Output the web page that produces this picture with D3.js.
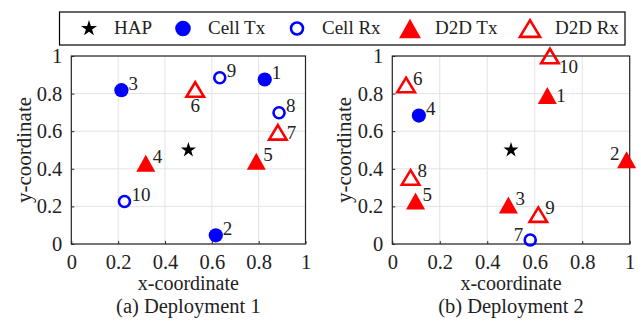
<!DOCTYPE html>
<html>
<head>
<meta charset="utf-8">
<script src="https://cdn.jsdelivr.net/npm/d3@7"></script>
<style>
  body { margin: 0; background: #fff; }
  svg text { font-family: "Liberation Serif", "Times New Roman", serif; fill: #222; }
</style>
</head>
<body>
<script>
(function (d3) {
    'use strict';

    // node ids 1..10 shown next to each marker
    var nodeIds = [1, 2, 3, 4, 5, 6, 7, 8, 9, 10];

    var legendKeys = ["HAP", "Cell Tx", "Cell Rx", "D2D Tx", "D2D Rx"];

    var hapX = 0.5, hapY = 0.5;

    // Deployment 1
    var dep1Type = ["Cell Tx", "Cell Tx", "Cell Tx", "D2D Tx", "D2D Tx", "D2D Rx", "D2D Rx", "Cell Rx", "Cell Rx", "Cell Rx"];
    var dep1X = [0.826, 0.617, 0.214, 0.318, 0.790, 0.529, 0.882, 0.887, 0.634, 0.227];
    var dep1Y = [0.875, 0.046, 0.818, 0.430, 0.440, 0.822, 0.594, 0.698, 0.884, 0.226];
    var dep1LabelSide = ["ne", "ne", "ne", "ne", "ne", "s", "e", "ne", "ne", "ne"];

    // Deployment 2
    var dep2Type = ["D2D Tx", "D2D Tx", "D2D Tx", "Cell Tx", "D2D Tx", "D2D Rx", "Cell Rx", "D2D Rx", "D2D Rx", "D2D Rx"];
    var dep2X = [0.653, 0.987, 0.489, 0.112, 0.098, 0.058, 0.581, 0.077, 0.615, 0.664];
    var dep2Y = [0.790, 0.448, 0.207, 0.683, 0.229, 0.846, 0.021, 0.354, 0.156, 1.000];
    var dep2LabelSide = ["e", "nw", "ne", "ne", "ne", "ne", "nw", "ne", "ne", "se"];

    var tickValues = [0, 0.2, 0.4, 0.6, 0.8, 1];

    var W = 641, H = 322;
    var FONT = "Liberation Serif";
    var svg = d3.select("body").append("svg")
        .attr("width", W)
        .attr("height", H);

    // marker drawing
    function triPath(w, h) {
        return "M0," + (-h / 2) + "L" + (w / 2) + "," + (h / 2) + "L" + (-w / 2) + "," + (h / 2) + "Z";
    }
    function drawMarker(g, type, big) {
        var s = big ? 1.15 : 1;
        if (type === "HAP") {
            g.append("path")
                .attr("d", d3.symbol().type(d3.symbolStar).size(big ? 80 : 70)())
                .attr("fill", "#000");
        } else if (type === "Cell Tx") {
            g.append("circle").attr("r", big ? 7.8 : 7.1).attr("fill", "#0000ff");
        } else if (type === "Cell Rx") {
            g.append("circle").attr("r", big ? 6 : 5.5)
                .attr("fill", "none").attr("stroke", "#0000ff").attr("stroke-width", 2.6);
        } else if (type === "D2D Tx") {
            g.append("path").attr("d", triPath(19 * s, 17 * s)).attr("fill", "#ff0000");
        } else if (type === "D2D Rx") {
            g.append("path").attr("d", triPath(17.5 * s, 14.5 * s))
                .attr("fill", "none").attr("stroke", "#ff0000")
                .attr("stroke-width", 2.6).attr("stroke-linejoin", "miter");
        }
    }

    var labelOffset = {
        ne: { dx: 7, dy: -7, anchor: "start" },
        e:  { dx: 9, dy: 0, anchor: "start" },
        s:  { dx: 0, dy: 16, anchor: "middle" },
        nw: { dx: -7, dy: -6, anchor: "end" },
        se: { dx: 9, dy: 10, anchor: "start" }
    };

    function panel(x0, x1, types, xs, ys, sides, ycx, caption) {
        var top = 56, bottom = 244;
        var x = d3.scaleLinear().domain([0, 1]).range([x0, x1]);
        var y = d3.scaleLinear().domain([0, 1]).range([bottom, top]);
        var g = svg.append("g");

        // grid
        g.selectAll(".gx").data(tickValues).enter().append("line")
            .attr("x1", function (d) { return x(d); }).attr("x2", function (d) { return x(d); })
            .attr("y1", top).attr("y2", bottom)
            .attr("stroke", "#e3e3e3").attr("stroke-width", 1);
        g.selectAll(".gy").data(tickValues).enter().append("line")
            .attr("y1", function (d) { return y(d); }).attr("y2", function (d) { return y(d); })
            .attr("x1", x0).attr("x2", x1)
            .attr("stroke", "#e3e3e3").attr("stroke-width", 1);

        // axes
        var ax = g.append("g")
            .attr("transform", "translate(0," + bottom + ")")
            .call(d3.axisBottom(x).tickValues(tickValues).tickSizeInner(-3).tickSizeOuter(0)
                .tickPadding(10).tickFormat(d3.format("~g")));
        var ay = g.append("g")
            .attr("transform", "translate(" + x0 + ",0)")
            .call(d3.axisLeft(y).tickValues(tickValues).tickSizeInner(-3).tickSizeOuter(0)
                .tickPadding(9).tickFormat(d3.format("~g")));
        [ax, ay].forEach(function (a) {
            a.attr("font-family", FONT);
            a.select(".domain").remove();
            a.selectAll("line").attr("stroke", "#262626");
            a.selectAll("text").attr("font-size", 20.5).attr("fill", "#222");
        });

        // box
        g.append("rect")
            .attr("x", x0).attr("y", top)
            .attr("width", x1 - x0).attr("height", bottom - top)
            .attr("fill", "none").attr("stroke", "#262626").attr("stroke-width", 1.2);

        // axis titles
        g.append("text")
            .attr("x", (x0 + x1) / 2).attr("y", 290)
            .attr("text-anchor", "middle").attr("font-size", 20)
            .text("x-coordinate");
        g.append("text")
            .attr("transform", "translate(" + ycx + "," + ((top + bottom) / 2) + ") rotate(-90)")
            .attr("text-anchor", "middle").attr("font-size", 21)
            .text("y-coordinate");
        g.append("text")
            .attr("x", (x0 + x1) / 2).attr("y", 313)
            .attr("text-anchor", "middle").attr("font-size", 20.5)
            .text(caption);

        // HAP
        drawMarker(g.append("g").attr("transform", "translate(" + x(hapX) + "," + y(hapY) + ")"), "HAP", false);

        // nodes
        nodeIds.forEach(function (id, i) {
            var px = x(xs[i]), py = y(ys[i]);
            drawMarker(g.append("g").attr("transform", "translate(" + px + "," + py + ")"), types[i], false);
            var o = labelOffset[sides[i]];
            g.append("text")
                .attr("x", px + o.dx).attr("y", py + o.dy)
                .attr("dy", "0.35em")
                .attr("text-anchor", o.anchor)
                .attr("font-size", 19)
                .text(id);
        });
    }

    panel(71.3, 305.5, dep1Type, dep1X, dep1Y, dep1LabelSide, 31, "(a) Deployment 1");
    panel(392.3, 629.7, dep2Type, dep2X, dep2Y, dep2LabelSide, 351, "(b) Deployment 2");

    // legend
    var lg = svg.append("g");
    lg.append("rect")
        .attr("x", 59.5).attr("y", 12).attr("width", 565.5).attr("height", 33)
        .attr("fill", "#fff").attr("stroke", "#000").attr("stroke-width", 1.2);
    var markerX = [89, 183, 297, 410, 530];
    legendKeys.forEach(function (k, i) {
        drawMarker(lg.append("g").attr("transform", "translate(" + markerX[i] + ",28.5)"), k, true);
        lg.append("text")
            .attr("x", markerX[i] + 25).attr("y", 34)
            .attr("font-size", 19)
            .text(k);
    });

})(d3);
</script>
</body>
</html>
